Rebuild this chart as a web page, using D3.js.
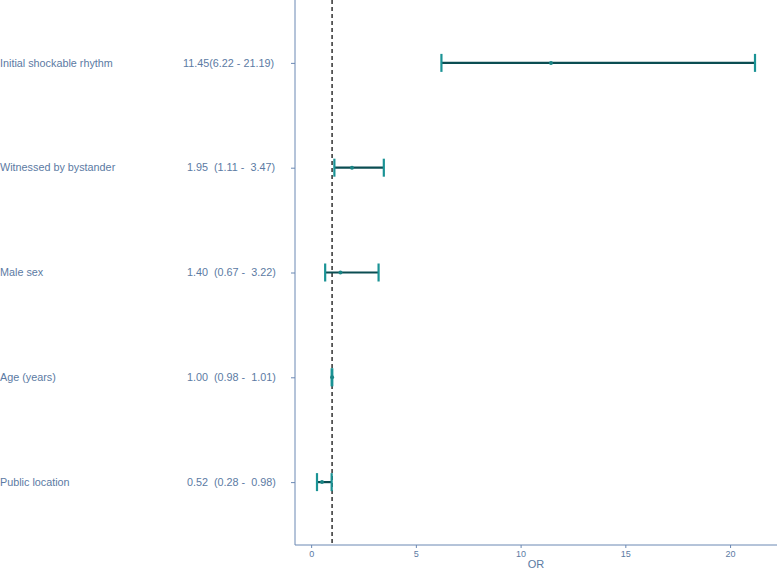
<!DOCTYPE html>
<html><head><meta charset="utf-8">
<script src="https://cdn.jsdelivr.net/npm/d3@7"></script>
<style>body{margin:0;background:#fff;} text{font-family:"Liberation Sans",Arial,sans-serif;}</style>
</head><body><svg id="c" width="777" height="569"></svg>
<script>
const categories = ["Initial shockable rhythm","Witnessed by bystander","Male sex","Age (years)","Public location"];
const orValues = [11.45, 1.95, 1.40, 1.00, 0.52];
const lowerCI = [6.22, 1.11, 0.67, 0.98, 0.28];
const upperCI = [21.19, 3.47, 3.22, 1.01, 0.98];
const ciLabels = ["11.45(6.22 - 21.19)","1.95  (1.11 -  3.47)","1.40  (0.67 -  3.22)","1.00  (0.98 -  1.01)","0.52  (0.28 -  0.98)"];
const xTicks = [0,5,10,15,20];

(function(){
const svg = d3.select("#c");
const pL = 295, pR = 777, pT = 0, pB = 545;
const x = d3.scaleLinear().domain([-0.77, 22.24]).range([pL, pR]);
const y = d3.scalePoint().domain(categories).range([pT, pB]).padding(0.6);
const txt = "#5b7aa3", axisCol = "#6b88b3";

svg.append("line").attr("x1", x(1)).attr("x2", x(1)).attr("y1", pT).attr("y2", pB)
  .attr("stroke", "#111").attr("stroke-width", 1.3).attr("stroke-dasharray", "4,3");

const rows = svg.append("g").selectAll("g").data(categories).join("g");
rows.append("line").attr("x1", (d,i)=>x(lowerCI[i])).attr("x2", (d,i)=>x(upperCI[i]))
  .attr("y1", d=>y(d)).attr("y2", d=>y(d)).attr("stroke", "#0b4d52").attr("stroke-width", 2.2);
["lo","hi"].forEach(k=>{
  rows.append("line").attr("x1",(d,i)=>x(k==="lo"?lowerCI[i]:upperCI[i])).attr("x2",(d,i)=>x(k==="lo"?lowerCI[i]:upperCI[i]))
    .attr("y1", d=>y(d)-9).attr("y2", d=>y(d)+9).attr("stroke", "#1a9395").attr("stroke-width", 2.2);
});
rows.append("circle").attr("cx",(d,i)=>x(orValues[i])).attr("cy", d=>y(d)).attr("r", 2).attr("fill", "#1a8585");

const yAxis = svg.append("g").attr("transform", `translate(${pL},0)`).call(d3.axisLeft(y).tickSize(4).tickFormat(""));
yAxis.select(".domain").attr("stroke", axisCol).attr("d", `M0,${pT}V${pB}`);
yAxis.selectAll(".tick line").attr("stroke", axisCol);

const xAxis = svg.append("g").attr("transform", `translate(0,${pB})`).call(d3.axisBottom(x).tickValues(xTicks).tickSize(3));
xAxis.select(".domain").attr("stroke", axisCol).attr("d", `M${pL},0H${pR}`);
xAxis.selectAll(".tick line").attr("stroke", axisCol);
xAxis.selectAll(".tick text").attr("fill", txt).attr("font-size", 9).attr("y", 4).attr("dy", "0.9em");

svg.append("text").attr("x", (pL+pR)/2).attr("y", 568).attr("text-anchor","middle")
  .attr("fill", txt).attr("font-size", 11).text("OR");

svg.append("g").selectAll("text").data(categories).join("text")
  .attr("x", 0).attr("y", d=>y(d)).attr("dy","0.35em").attr("fill", txt).attr("font-size", 10.8).text(d=>d);
svg.append("g").selectAll("text").data(ciLabels).join("text")
  .attr("x", (d,i)=> i===0?183:187).attr("y", (d,i)=>y(categories[i])).attr("dy","0.35em")
  .attr("fill", txt).attr("font-size", 10.8).style("white-space","pre").text(d=>d);
})();
</script></body></html>
